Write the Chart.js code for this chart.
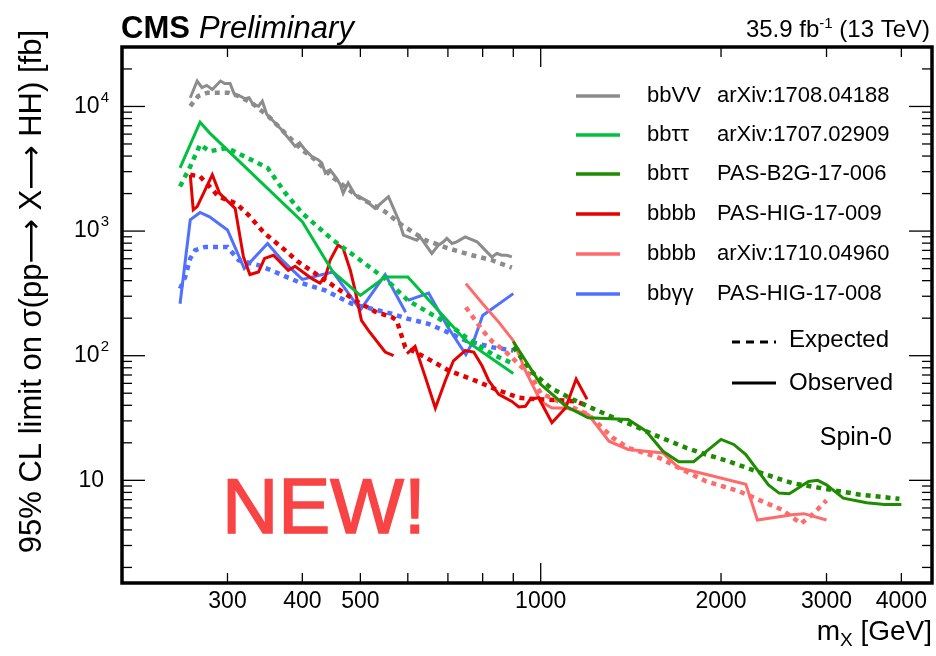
<!DOCTYPE html>
<html><head><meta charset="utf-8">
<script src="https://cdn.jsdelivr.net/npm/chart.js@4/dist/chart.umd.min.js"></script>
<style>html,body{margin:0;padding:0;background:#fff;}canvas{display:block}</style>
</head><body>
<canvas id="c" width="936" height="656"></canvas>
<script>
// ---------- data (mass in GeV, limit in fb) ----------
const xTickValues = [300, 400, 500, 1000, 2000, 3000, 4000];
const yTickExponents = [1, 2, 3, 4];

const bbVV_obs_m = [260,267,272,277,283,292,297,303,308,315,321,326,331,338,343,349,358,369,381,389,396,404,415,425,431,437,445,456,463,468,477,490,509,529,557,579,590,621,629,658,675,688,697,711,724,748,783,813,829,845,861,878,895];
const bbVV_obs   = [11750,16000,14160,14760,13700,16000,15300,15300,12500,12100,11540,11750,10380,10050,11030,8620,7610,6530,5420,4790,5100,4500,3970,3740,3520,2920,3100,2660,2350,2010,2430,1950,1780,1520,1890,1230,929,846,899,661,771,820,873,796,820,899,820,681,620,661,640,640,620];
const bbVV_exp_m = [260,268,278,301,313,329,351,374,399,420,448,496,550,586,642,702,768,829,895];
const bbVV_exp   = [10050,12100,12900,12900,12100,10700,8360,6140,4500,3740,2740,1880,1430,1120,846,725,640,584,509];

const bbtt_res_obs_m = [250,270,280,400,450,500,550,600,750,900];
const bbtt_res_obs   = [3210,7470,6140,1190,470,305,428,428,132,72];
const bbtt_res_exp_m = [250,260,270,280,300,350,375,400,450,500,550,600,700,750,830,900];
const bbtt_res_exp   = [2280,3300,4940,4370,4640,3210,2010,1390,846,584,415,278,180,141,103,86];

const bbtt_boost_obs_m = [900,1000,1100,1200,1400,1500,1600,1700,1800,2000,2100,2200,2400,2500,2600,2800,2900,3000,3200,3500,3750,4000];
const bbtt_boost_obs   = [130,59,39.5,31.8,30.8,24.8,17.1,14.1,14.1,21.3,19.4,16.1,9.2,7.9,7.8,9.8,10.0,9.2,7.2,6.6,6.4,6.4];
const bbtt_boost_exp_m = [900,970,1040,1130,1220,1330,1420,1540,1750,1890,2040,2380,2630,2920,3400,3970];
const bbtt_boost_exp   = [117,73,55,44.7,37.8,31.5,27.8,23.4,18.2,16.1,14.4,11.1,9.5,8.7,7.7,7.1];

const bbbb_res_obs_low_m  = [260,263,267,283,291,309,319,327,338,346,358,379,389,415,428,437,445,459,468,481,490,502,516,550,568];
const bbbb_res_obs_low    = [2830,1480,1570,2830,2010,1520,620,448,470,603,640,485,522,415,383,428,584,771,725,485,334,192,159,107,100];
const bbbb_res_obs_high_m = [598,617,642,667,693,715,748,773,798,819,851,895,919,943,961,992,1044,1100,1146,1195];
const bbbb_res_obs_high   = [104,119,67,38,63,91,110,107,83,63,49,43,38.8,39.3,44.8,46,29,38,64.9,44.8];
const bbbb_res_exp_m = [260,270,280,290,310,325,346,369,394,437,471,496,529,564,575,594,642,702,778,840,919,980,1055,1143,1200];
const bbbb_res_exp   = [2830,2740,2280,1890,1670,1350,958,746,565,403,315,269,226,204,192,117,97,76,63,54,46,44.8,44.2,43,39.5];

const bbbb_boost_obs_m = [750,800,851,900,943,1000,1044,1100,1200,1300,1400,1600,1700,1900,2200,2300,2630,2750,3000];
const bbbb_boost_obs   = [379,261,186,132,76,43,38,38,33.9,20.6,17.7,16.6,12.6,11.1,9.3,4.8,5.3,5.4,4.8];
const bbbb_boost_exp_m = [750,800,830,870,920,965,1000,1100,1200,1320,1400,1580,1700,1890,2140,2340,2530,2720,2840,3000];
const bbbb_boost_exp   = [245,159,130,110,85,68,50,40.7,33.9,21.9,18.2,15.1,12.6,9.8,8.2,6.8,5.8,4.5,5.3,6.9];

const bbgg_obs_low_m  = [250,260,270,280,300,320,350,370,400,450,500,550,595];
const bbgg_obs_low    = [261,1230,1410,1300,1020,500,796,584,410,470,233,448,223];
const bbgg_obs_high_m = [600,650,700,750,775,800,900];
const bbgg_obs_high   = [278,318,169,102,136,210,315];
const bbgg_exp_m = [250,255,260,265,275,300,313,338,355,394,437,484,522,564,600,650,700,750,830,900];
const bbgg_exp   = [345,428,603,703,746,746,584,532,485,390,334,261,238,217,198,180,154,132,117,110];

const legendChannels = ['bbVV','bb\u03c4\u03c4','bb\u03c4\u03c4','bbbb','bbbb','bb\u03b3\u03b3'];
const legendRefs = ['arXiv:1708.04188','arXiv:1707.02909','PAS-B2G-17-006','PAS-HIG-17-009','arXiv:1710.04960','PAS-HIG-17-008'];
const legendColors = ['#8c8c8c','#00c040','#1e8c00','#e60000','#ff6b6b','#5070ff'];

// ---------- chart ----------
const FONT = "'Liberation Sans', Arial, Helvetica, sans-serif";
const ARROWFONT = "'DejaVu Sans', sans-serif";
function pts(m, v){ return m.map((x,i)=>({x:x, y:v[i]})); }
function obs(m, v, c){ return {data:pts(m,v), borderColor:c, borderWidth:3, pointRadius:0, fill:false, tension:0}; }
function exp(m, v, c){ return {data:pts(m,v), borderColor:c, borderWidth:4.5, borderDash:[5,5], pointRadius:0, fill:false, tension:0, borderCapStyle:'butt'}; }

const datasets = [
  obs(bbVV_obs_m, bbVV_obs, legendColors[0]),
  exp(bbVV_exp_m, bbVV_exp, legendColors[0]),
  obs(bbtt_res_obs_m, bbtt_res_obs, legendColors[1]),
  exp(bbtt_res_exp_m, bbtt_res_exp, legendColors[1]),
  obs(bbtt_boost_obs_m, bbtt_boost_obs, legendColors[2]),
  exp(bbtt_boost_exp_m, bbtt_boost_exp, legendColors[2]),
  obs(bbbb_res_obs_low_m, bbbb_res_obs_low, legendColors[3]),
  obs(bbbb_res_obs_high_m, bbbb_res_obs_high, legendColors[3]),
  exp(bbbb_res_exp_m, bbbb_res_exp, legendColors[3]),
  obs(bbbb_boost_obs_m, bbbb_boost_obs, legendColors[4]),
  exp(bbbb_boost_exp_m, bbbb_boost_exp, legendColors[4]),
  obs(bbgg_obs_low_m, bbgg_obs_low, legendColors[5]),
  obs(bbgg_obs_high_m, bbgg_obs_high, legendColors[5]),
  exp(bbgg_exp_m, bbgg_exp, legendColors[5])
];

function line(ctx,x1,y1,x2,y2){ ctx.beginPath(); ctx.moveTo(x1,y1); ctx.lineTo(x2,y2); ctx.stroke(); }

// draws a run of [text, font, dy] parts, ending at x=0 (right aligned)
function richRight(ctx, parts){
  let total = 0;
  parts.forEach(p => { ctx.font = p[1]; total += ctx.measureText(p[0]).width; });
  let x = -total;
  ctx.textAlign = 'left';
  parts.forEach(p => { ctx.font = p[1]; ctx.fillText(p[0], x, p[2] || 0); x += ctx.measureText(p[0]).width; });
}

const decorPlugin = {
  id:'decor',
  afterDatasetsDraw(chart){
    const ctx = chart.ctx, a = chart.chartArea, xs = chart.scales.x, ys = chart.scales.y;
    ctx.save();
    ctx.strokeStyle = '#000'; ctx.fillStyle = '#000'; ctx.lineWidth = 1.3;
    // x ticks (inside, bottom and top)
    for (let d = 100; d <= 1000; d *= 10) for (let k = 1; k < 10; k++) {
      const v = k*d; if (v <= xs.min || v >= xs.max) continue;
      const p = xs.getPixelForValue(v), L = (k === 1) ? 20 : 10;
      line(ctx,p,a.bottom,p,a.bottom-L); line(ctx,p,a.top,p,a.top+L);
    }
    // y ticks (inside, left and right)
    for (let d = 1; d <= 10000; d *= 10) for (let k = 1; k < 10; k++) {
      const v = k*d; if (v <= ys.min || v >= ys.max) continue;
      const p = ys.getPixelForValue(v), L = (k === 1) ? 23 : 10;
      line(ctx,a.left,p,a.left+L,p); line(ctx,a.right,p,a.right-L,p);
    }
    // frame
    ctx.lineWidth = 3.5;
    ctx.strokeRect(a.left, a.top, a.right-a.left, a.bottom-a.top);

    // y tick labels 10^n
    ctx.textBaseline = 'middle';
    yTickExponents.forEach(e => {
      const p = ys.getPixelForValue(Math.pow(10,e));
      if (e === 1) {
        ctx.font = '23px ' + FONT; ctx.textAlign = 'right';
        ctx.fillText('10', 104, p);
      } else {
        ctx.font = '15px ' + FONT; ctx.textAlign = 'right';
        ctx.fillText(String(e), 109, p-9);
        const w = ctx.measureText(String(e)).width;
        ctx.font = '23px ' + FONT;
        ctx.fillText('10', 109 - w - 1, p);
      }
    });

    // y title (rotated, ending near the top)
    ctx.save();
    ctx.translate(41, 30); ctx.rotate(-Math.PI/2);
    ctx.textBaseline = 'alphabetic';
    const tf = '31px ' + FONT, af = '31px ' + ARROWFONT;
    richRight(ctx, [['95% CL limit on \u03c3(pp', tf], ['\u27f6', af], [' X', tf], ['\u27f6', af], [' HH) [fb]', tf]]);
    ctx.restore();

    // x title  m_X [GeV]
    ctx.save();
    ctx.translate(932, 640); ctx.textBaseline = 'alphabetic';
    richRight(ctx, [['m', '28px ' + FONT], ['X', '19px ' + FONT, 6], [' [GeV]', '28px ' + FONT]]);
    ctx.restore();

    // CMS Preliminary
    ctx.textAlign = 'left'; ctx.textBaseline = 'alphabetic';
    ctx.font = 'bold 31px ' + FONT; ctx.fillText('CMS', 121, 38);
    const wc = ctx.measureText('CMS').width;
    ctx.font = 'italic 31px ' + FONT; ctx.fillText('Preliminary', 121 + wc + 9, 38);

    // lumi
    ctx.save();
    ctx.translate(930, 37);
    richRight(ctx, [['35.9 fb', '24px ' + FONT], ['-1', '15px ' + FONT, -9], [' (13 TeV)', '24px ' + FONT]]);
    ctx.restore();

    // legend
    ctx.textBaseline = 'middle';
    const rows = [96, 135, 174, 214, 254, 294];
    rows.forEach((ry, i) => {
      ctx.strokeStyle = legendColors[i]; ctx.lineWidth = 3.5; ctx.setLineDash([]);
      line(ctx, 576, ry, 620, ry);
      ctx.fillStyle = '#000'; ctx.font = '22px ' + FONT; ctx.textAlign = 'left';
      ctx.fillText(legendChannels[i], 647, ry);
      ctx.fillText(legendRefs[i], 717, ry);
    });
    ctx.strokeStyle = '#000'; ctx.lineWidth = 3;
    ctx.setLineDash([8,6]); line(ctx, 732, 342, 776, 342);
    ctx.setLineDash([]); line(ctx, 732, 383, 776, 383);
    ctx.font = '24px ' + FONT; ctx.textAlign = 'left';
    ctx.fillText('Expected', 789, 340);
    ctx.fillText('Observed', 789, 383);
    ctx.font = '25px ' + FONT; ctx.textAlign = 'right';
    ctx.fillText('Spin-0', 892, 438);

    // NEW!
    ctx.textAlign = 'left'; ctx.textBaseline = 'alphabetic';
    ctx.fillStyle = '#f84444'; ctx.strokeStyle = '#f84444'; ctx.lineWidth = 1.6;
    ctx.font = '78px ' + FONT;
    ctx.fillText('NEW!', 222, 533);
    ctx.strokeText('NEW!', 222, 533);
    ctx.restore();
  }
};

new Chart(document.getElementById('c'), {
  type: 'line',
  data: { datasets: datasets },
  options: {
    responsive: false,
    animation: false,
    devicePixelRatio: 1,
    layout: { padding: { top: 47, right: 4, left: 0, bottom: 0 } },
    plugins: { legend: { display: false }, tooltip: { enabled: false } },
    scales: {
      x: {
        type: 'logarithmic', min: 200, max: 4500,
        afterBuildTicks(s){ s.ticks = xTickValues.map(v => ({value: v})); },
        afterFit(s){ s.height = 73; },
        ticks: { autoSkip: false, maxRotation: 0, padding: 5, color: '#000',
                 font: { family: FONT, size: 23 }, callback: (v) => String(v) },
        grid: { display: false, drawTicks: false }, border: { display: false }
      },
      y: {
        type: 'logarithmic', min: 1.5, max: 30000,
        afterFit(s){ s.width = 122; },
        ticks: { display: false },
        grid: { display: false, drawTicks: false }, border: { display: false }
      }
    }
  },
  plugins: [decorPlugin]
});
</script>
</body></html>
